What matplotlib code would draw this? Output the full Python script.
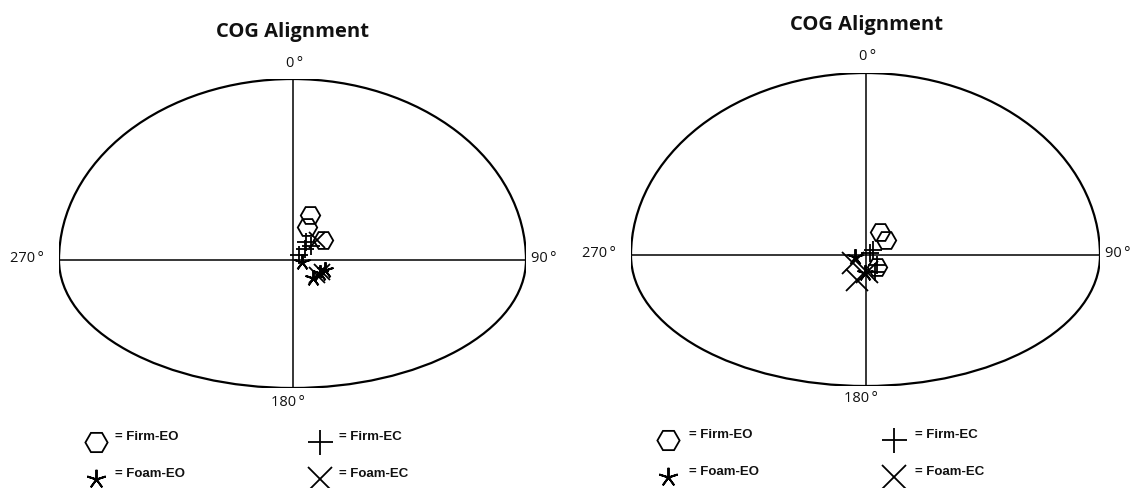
import matplotlib
matplotlib.use("Agg")
import matplotlib.pyplot as plt
from matplotlib.patches import Arc

# Normalised COG offsets: x relative to the horizontal semi-axis,
# y relative to the upper vertical semi-axis (positive = towards 0 deg).
left_firm_eo_x = [0.075, 0.061, 0.132]
left_firm_eo_y = [0.249, 0.184, 0.110]
left_firm_ec_x = [0.028, 0.054, 0.079, 0.058]
left_firm_ec_y = [0.028, 0.061, 0.077, 0.099]
left_foam_eo_x = [0.039, 0.088, 0.118, 0.139]
left_foam_eo_y = [-0.009, -0.099, -0.072, -0.055]
left_foam_ec_x = [0.104, 0.104, 0.126]
left_foam_ec_y = [0.110, -0.083, -0.066]

right_firm_eo_x = [0.062, 0.087, 0.049]
right_firm_eo_y = [0.129, 0.085, -0.063]
right_firm_ec_x = [0.032, 0.019, 0.048, 0.041]
right_firm_ec_y = [0.030, 0.014, -0.052, -0.089]
right_foam_eo_x = [-0.045, -0.002]
right_foam_eo_y = [-0.007, -0.096]
right_foam_ec_x = [-0.053, -0.038, 0.005]
right_foam_ec_y = [-0.041, -0.134, -0.089]

series_labels = ["= Firm-EO", "= Firm-EC", "= Foam-EO", "= Foam-EC"]
direction_labels = ["0\u2009°", "90\u2009°", "180\u2009°", "270\u2009°"]
title_text = "COG Alignment"

W, H = 1132, 488
fig = plt.figure(figsize=(W / 100, H / 100), dpi=100)
fig.patch.set_facecolor("white")

# overlay in pixel units for titles, labels and keys
ov = fig.add_axes([0, 0, 1, 1])
ov.set_xlim(0, W)
ov.set_ylim(H, 0)
ov.axis("off")

STAR = (5, 2, 0)
styles = {
    "firm_eo": dict(marker="H", ms=14, mfc="none", mec="black", mew=1.3),
    "firm_ec": dict(marker="+", ms=13, mec="black", mew=1.3),
    "foam_eo": dict(marker=STAR, ms=12, mec="black", mew=1.4),
    "foam_ec": dict(marker="x", ms=12, mec="black", mew=1.3),
}

def panel(box, lower_ratio, data, labels_pos, title_pos, legend_pos, x_size):
    x0, ytop, x1, ybot = box
    ax = fig.add_axes([x0 / W, (H - ybot) / H, (x1 - x0) / W, (ybot - ytop) / H])
    ax.set_xlim(-1, 1)
    ax.set_ylim(-lower_ratio, 1)
    ax.axis("off")
    ax.add_patch(Arc((0, 0), 2, 2, theta1=0, theta2=180, lw=1.6, color="black"))
    ax.add_patch(Arc((0, 0), 2, 2 * lower_ratio, theta1=180, theta2=360,
                     lw=1.6, color="black"))
    ax.plot([-1, 1], [0, 0], color="black", lw=1.1)
    ax.plot([0, 0], [-lower_ratio, 1], color="black", lw=1.1)
    for key, (xs, ys) in data.items():
        st = dict(styles[key])
        if key == "foam_ec":
            st["ms"] = x_size
        ax.plot(xs, ys, ls="none", clip_on=False, **st)

    ov.text(title_pos[0], title_pos[1], title_text, ha="center", va="baseline",
            fontsize=14.5, fontweight="bold", family="Open Sans", color="#111111")
    for txt, (tx, ty, ha) in zip(direction_labels, labels_pos):
        ov.text(tx, ty, txt, ha=ha, va="baseline", fontsize=10.5,
                family="Open Sans", color="#111111")

    lx1, lx2, ly1, ly2, tdx = legend_pos
    keys = [("firm_eo", lx1, ly1), ("firm_ec", lx2, ly1),
            ("foam_eo", lx1, ly2), ("foam_ec", lx2, ly2)]
    big = {"firm_eo": 16, "firm_ec": 18, "foam_eo": 14, "foam_ec": 17}
    for (key, kx, ky), lab in zip(keys, series_labels):
        st = dict(styles[key])
        st["ms"] = big[key]
        ov.plot([kx], [ky], ls="none", **st)
        ov.text(kx + tdx, ky - 2, lab, ha="left", va="baseline", fontsize=9.5,
                fontweight="bold", family="Liberation Sans", color="#111111")
    return ax

panel((59, 79, 526, 388), 128 / 181,
      {"firm_eo": (left_firm_eo_x, left_firm_eo_y),
       "firm_ec": (left_firm_ec_x, left_firm_ec_y),
       "foam_eo": (left_foam_eo_x, left_foam_eo_y),
       "foam_ec": (left_foam_ec_x, left_foam_ec_y)},
      [(295, 67, "center"), (531, 262, "left"), (288, 406, "center"), (44, 262, "right")],
      (292.5, 37), (96, 320, 442, 479, 19), 12)

panel((631, 73, 1100, 386), 130.5 / 182.5,
      {"firm_eo": (right_firm_eo_x, right_firm_eo_y),
       "firm_ec": (right_firm_ec_x, right_firm_ec_y),
       "foam_eo": (right_foam_eo_x, right_foam_eo_y),
       "foam_ec": (right_foam_ec_x, right_foam_ec_y)},
      [(868, 60, "center"), (1105, 257, "left"), (861, 402, "center"), (616, 257, "right")],
      (867, 30), (668, 894, 440, 477, 21), 16)

fig.savefig("out.png", dpi=100, facecolor="white")
